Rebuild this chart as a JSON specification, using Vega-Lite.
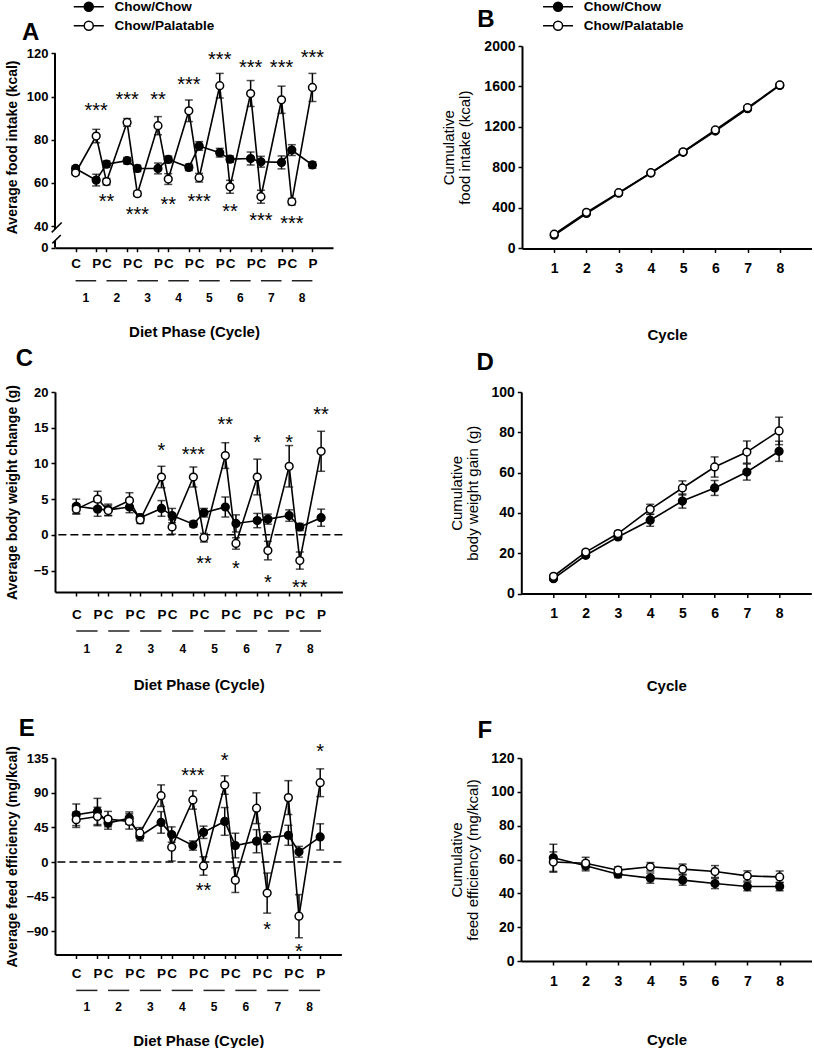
{
"$schema": "https://vega.github.io/schema/vega-lite/v6.json",
"padding": {"left": 5, "top": 0, "right": 0, "bottom": 0},
"datasets": {
"intake": [
{"group":"Chow/Chow","x":0,"mean":66.7,"sem":1.2},{"group":"Chow/Chow","x":2,"mean":61.3,"sem":2.7},{"group":"Chow/Chow","x":3,"mean":68.7,"sem":1.5},{"group":"Chow/Chow","x":5,"mean":70.3,"sem":1.5},
{"group":"Chow/Chow","x":6,"mean":66.7,"sem":1.5},{"group":"Chow/Chow","x":8,"mean":66.7,"sem":2.5},{"group":"Chow/Chow","x":9,"mean":70.9,"sem":1.5},{"group":"Chow/Chow","x":11,"mean":67.2,"sem":1.5},
{"group":"Chow/Chow","x":12,"mean":77.1,"sem":2.0},{"group":"Chow/Chow","x":14,"mean":74.0,"sem":2.0},{"group":"Chow/Chow","x":15,"mean":71.0,"sem":1.5},{"group":"Chow/Chow","x":17,"mean":71.3,"sem":3.0},
{"group":"Chow/Chow","x":18,"mean":69.8,"sem":2.5},{"group":"Chow/Chow","x":20,"mean":69.5,"sem":3.0},{"group":"Chow/Chow","x":21,"mean":75.2,"sem":2.5},{"group":"Chow/Chow","x":23,"mean":68.3,"sem":1.5},
{"group":"Chow/Palatable","x":0,"mean":64.7,"sem":1.0},{"group":"Chow/Palatable","x":2,"mean":81.7,"sem":3.1},{"group":"Chow/Palatable","x":3,"mean":60.6,"sem":1.5},{"group":"Chow/Palatable","x":5,"mean":88.0,"sem":1.8},
{"group":"Chow/Palatable","x":6,"mean":55.0,"sem":1.2},{"group":"Chow/Palatable","x":8,"mean":86.5,"sem":4.2},{"group":"Chow/Palatable","x":9,"mean":61.8,"sem":2.5},{"group":"Chow/Palatable","x":11,"mean":93.4,"sem":5.0},
{"group":"Chow/Palatable","x":12,"mean":62.4,"sem":2.0},{"group":"Chow/Palatable","x":14,"mean":105.0,"sem":5.7},{"group":"Chow/Palatable","x":15,"mean":58.2,"sem":3.0},{"group":"Chow/Palatable","x":17,"mean":101.4,"sem":6.0},
{"group":"Chow/Palatable","x":18,"mean":53.6,"sem":3.0},{"group":"Chow/Palatable","x":20,"mean":98.5,"sem":6.3},{"group":"Chow/Palatable","x":21,"mean":51.3,"sem":1.5},{"group":"Chow/Palatable","x":23,"mean":104.2,"sem":6.5}
],
"weight": [
{"group":"Chow/Chow","x":0,"mean":4.0,"sem":1.0},{"group":"Chow/Chow","x":2,"mean":3.6,"sem":1.0},{"group":"Chow/Chow","x":3,"mean":3.5,"sem":0.8},{"group":"Chow/Chow","x":5,"mean":3.9,"sem":0.8},
{"group":"Chow/Chow","x":6,"mean":2.4,"sem":0.5},{"group":"Chow/Chow","x":8,"mean":3.7,"sem":1.1},{"group":"Chow/Chow","x":9,"mean":2.7,"sem":1.0},{"group":"Chow/Chow","x":11,"mean":1.5,"sem":0.4},
{"group":"Chow/Chow","x":12,"mean":3.1,"sem":0.6},{"group":"Chow/Chow","x":14,"mean":3.9,"sem":1.4},{"group":"Chow/Chow","x":15,"mean":1.6,"sem":1.2},{"group":"Chow/Chow","x":17,"mean":2.0,"sem":1.0},
{"group":"Chow/Chow","x":18,"mean":2.2,"sem":0.7},{"group":"Chow/Chow","x":20,"mean":2.7,"sem":0.8},{"group":"Chow/Chow","x":21,"mean":1.1,"sem":0.5},{"group":"Chow/Chow","x":23,"mean":2.4,"sem":1.2},
{"group":"Chow/Palatable","x":0,"mean":3.6,"sem":0.7},{"group":"Chow/Palatable","x":2,"mean":5.0,"sem":1.1},{"group":"Chow/Palatable","x":3,"mean":3.4,"sem":0.7},{"group":"Chow/Palatable","x":5,"mean":4.8,"sem":1.1},
{"group":"Chow/Palatable","x":6,"mean":2.1,"sem":0.5},{"group":"Chow/Palatable","x":8,"mean":8.1,"sem":1.5},{"group":"Chow/Palatable","x":9,"mean":1.1,"sem":1.0},{"group":"Chow/Palatable","x":11,"mean":8.1,"sem":1.4},
{"group":"Chow/Palatable","x":12,"mean":-0.4,"sem":0.6},{"group":"Chow/Palatable","x":14,"mean":11.1,"sem":1.8},{"group":"Chow/Palatable","x":15,"mean":-1.2,"sem":0.8},{"group":"Chow/Palatable","x":17,"mean":8.1,"sem":2.5},
{"group":"Chow/Palatable","x":18,"mean":-2.2,"sem":1.3},{"group":"Chow/Palatable","x":20,"mean":9.6,"sem":2.9},{"group":"Chow/Palatable","x":21,"mean":-3.6,"sem":1.2},{"group":"Chow/Palatable","x":23,"mean":11.7,"sem":2.8}
],
"efficiency": [
{"group":"Chow/Chow","x":0,"mean":61.3,"sem":14},{"group":"Chow/Chow","x":2,"mean":65.6,"sem":17},{"group":"Chow/Chow","x":3,"mean":50.6,"sem":8},{"group":"Chow/Chow","x":5,"mean":57.0,"sem":8},
{"group":"Chow/Chow","x":6,"mean":33.4,"sem":6},{"group":"Chow/Chow","x":8,"mean":51.4,"sem":14},{"group":"Chow/Chow","x":9,"mean":35.6,"sem":10},{"group":"Chow/Chow","x":11,"mean":21.4,"sem":6},
{"group":"Chow/Chow","x":12,"mean":38.6,"sem":8},{"group":"Chow/Chow","x":14,"mean":52.7,"sem":18},{"group":"Chow/Chow","x":15,"mean":21.4,"sem":16},{"group":"Chow/Chow","x":17,"mean":27.0,"sem":15},
{"group":"Chow/Chow","x":18,"mean":31.3,"sem":8},{"group":"Chow/Chow","x":20,"mean":34.7,"sem":13},{"group":"Chow/Chow","x":21,"mean":13.3,"sem":7},{"group":"Chow/Chow","x":23,"mean":32.6,"sem":17},
{"group":"Chow/Palatable","x":0,"mean":54.9,"sem":10},{"group":"Chow/Palatable","x":2,"mean":59.1,"sem":12},{"group":"Chow/Palatable","x":3,"mean":55.7,"sem":10},{"group":"Chow/Palatable","x":5,"mean":52.7,"sem":10},
{"group":"Chow/Palatable","x":6,"mean":37.7,"sem":7},{"group":"Chow/Palatable","x":8,"mean":86.1,"sem":14},{"group":"Chow/Palatable","x":9,"mean":19.3,"sem":18},{"group":"Chow/Palatable","x":11,"mean":80.6,"sem":12},
{"group":"Chow/Palatable","x":12,"mean":-5.1,"sem":12},{"group":"Chow/Palatable","x":14,"mean":99.9,"sem":12},{"group":"Chow/Palatable","x":15,"mean":-23.5,"sem":16},{"group":"Chow/Palatable","x":17,"mean":69.8,"sem":20},
{"group":"Chow/Palatable","x":18,"mean":-40.3,"sem":26},{"group":"Chow/Palatable","x":20,"mean":83.6,"sem":22},{"group":"Chow/Palatable","x":21,"mean":-70.3,"sem":28},{"group":"Chow/Palatable","x":23,"mean":102.9,"sem":18}
],
"cumIntake": [
{"group":"Chow/Chow","cycle":1,"mean":130,"sem":10},{"group":"Chow/Chow","cycle":2,"mean":345,"sem":12},{"group":"Chow/Chow","cycle":3,"mean":545,"sem":12},{"group":"Chow/Chow","cycle":4,"mean":745,"sem":12},
{"group":"Chow/Chow","cycle":5,"mean":950,"sem":15},{"group":"Chow/Chow","cycle":6,"mean":1160,"sem":15},{"group":"Chow/Chow","cycle":7,"mean":1380,"sem":18},{"group":"Chow/Chow","cycle":8,"mean":1610,"sem":20},
{"group":"Chow/Palatable","cycle":1,"mean":140,"sem":10},{"group":"Chow/Palatable","cycle":2,"mean":356,"sem":12},{"group":"Chow/Palatable","cycle":3,"mean":550,"sem":12},{"group":"Chow/Palatable","cycle":4,"mean":748,"sem":15},
{"group":"Chow/Palatable","cycle":5,"mean":955,"sem":15},{"group":"Chow/Palatable","cycle":6,"mean":1170,"sem":18},{"group":"Chow/Palatable","cycle":7,"mean":1390,"sem":20},{"group":"Chow/Palatable","cycle":8,"mean":1615,"sem":22}
],
"cumWeight": [
{"group":"Chow/Chow","cycle":1,"mean":7.4,"sem":0.8},{"group":"Chow/Chow","cycle":2,"mean":19.0,"sem":1.0},{"group":"Chow/Chow","cycle":3,"mean":28.1,"sem":1.2},{"group":"Chow/Chow","cycle":4,"mean":36.4,"sem":3.0},
{"group":"Chow/Chow","cycle":5,"mean":45.9,"sem":3.5},{"group":"Chow/Chow","cycle":6,"mean":52.4,"sem":3.7},{"group":"Chow/Chow","cycle":7,"mean":60.3,"sem":4.0},{"group":"Chow/Chow","cycle":8,"mean":70.6,"sem":5.0},
{"group":"Chow/Palatable","cycle":1,"mean":8.6,"sem":0.8},{"group":"Chow/Palatable","cycle":2,"mean":20.6,"sem":1.0},{"group":"Chow/Palatable","cycle":3,"mean":29.8,"sem":1.2},{"group":"Chow/Palatable","cycle":4,"mean":41.8,"sem":2.5},
{"group":"Chow/Palatable","cycle":5,"mean":52.4,"sem":3.5},{"group":"Chow/Palatable","cycle":6,"mean":62.8,"sem":5.0},{"group":"Chow/Palatable","cycle":7,"mean":70.2,"sem":5.5},{"group":"Chow/Palatable","cycle":8,"mean":80.7,"sem":6.8}
],
"cumEff": [
{"group":"Chow/Chow","cycle":1,"mean":61.0,"sem":8},{"group":"Chow/Chow","cycle":2,"mean":56.3,"sem":3},{"group":"Chow/Chow","cycle":3,"mean":51.3,"sem":2},{"group":"Chow/Chow","cycle":4,"mean":49.0,"sem":3},
{"group":"Chow/Chow","cycle":5,"mean":47.8,"sem":3},{"group":"Chow/Chow","cycle":6,"mean":45.8,"sem":3},{"group":"Chow/Chow","cycle":7,"mean":44.0,"sem":2.5},{"group":"Chow/Chow","cycle":8,"mean":44.0,"sem":2.5},
{"group":"Chow/Palatable","cycle":1,"mean":58.5,"sem":6},{"group":"Chow/Palatable","cycle":2,"mean":57.8,"sem":3.5},{"group":"Chow/Palatable","cycle":3,"mean":53.7,"sem":2},{"group":"Chow/Palatable","cycle":4,"mean":55.7,"sem":2.5},
{"group":"Chow/Palatable","cycle":5,"mean":54.3,"sem":3},{"group":"Chow/Palatable","cycle":6,"mean":52.9,"sem":3.5},{"group":"Chow/Palatable","cycle":7,"mean":50.3,"sem":3},{"group":"Chow/Palatable","cycle":8,"mean":49.7,"sem":3.5}
],
"starsIntake": [
{"x":2,"y":95.7,"label":"***"},{"x":3,"y":53.9,"label":"**"},{"x":5,"y":101,"label":"***"},{"x":6,"y":47.5,"label":"***"},{"x":8,"y":101,"label":"**"},
{"x":9,"y":52.1,"label":"**"},{"x":11,"y":108.1,"label":"***"},{"x":12,"y":53.6,"label":"***"},{"x":14,"y":119.5,"label":"***"},{"x":15,"y":49.3,"label":"**"},
{"x":17,"y":115.6,"label":"***"},{"x":18,"y":45.1,"label":"***"},{"x":20,"y":115.6,"label":"***"},{"x":21,"y":43.3,"label":"***"},{"x":23,"y":120.4,"label":"***"}
],
"starsWeight": [
{"x":8,"y":12.5,"label":"*"},{"x":11,"y":12.0,"label":"***"},{"x":14,"y":16.1,"label":"**"},{"x":12,"y":-3.3,"label":"**"},{"x":17,"y":13.6,"label":"*"},
{"x":15,"y":-4.0,"label":"*"},{"x":20,"y":13.6,"label":"*"},{"x":18,"y":-5.9,"label":"*"},{"x":23,"y":17.6,"label":"**"},{"x":21,"y":-6.6,"label":"**"}
],
"starsEff": [
{"x":11,"y":119.2,"label":"***"},{"x":14,"y":138.4,"label":"*"},{"x":12,"y":-30.9,"label":"**"},{"x":18,"y":-81,"label":"*"},{"x":23,"y":150.4,"label":"*"},{"x":21,"y":-110.2,"label":"*"}
],
"cycles": [
{"cycle":1,"start":0,"end":2,"mid":1},{"cycle":2,"start":3,"end":5,"mid":4},{"cycle":3,"start":6,"end":8,"mid":7},{"cycle":4,"start":9,"end":11,"mid":10},
{"cycle":5,"start":12,"end":14,"mid":13},{"cycle":6,"start":15,"end":17,"mid":16},{"cycle":7,"start":18,"end":20,"mid":19},{"cycle":8,"start":21,"end":23,"mid":22}
]
},
"vconcat": [
{
"hconcat": [
{
"width": 278, "height": 201.7,
"title": {"text": "A", "dx": -33, "offset": -44.7},
"layer": [
{"data": {"values": [{"part": "axis"}]}, "mark": {"type": "rule", "color": "black", "strokeWidth": 2},
 "encoding": {"x": {"datum": -2, "scale": {"domain": [-2, 25], "nice": false, "zero": false}}, "y": {"datum": 30, "scale": {"domain": [30, 123.4], "nice": false, "zero": false}}, "y2": {"datum": 33.2}}},
{"data": {"values": [{"part": "axis"}]}, "mark": {"type": "rule", "color": "black", "strokeWidth": 2},
 "encoding": {"x": {"datum": -2, "scale": {"domain": [-2, 25], "nice": false, "zero": false}}, "y": {"datum": 38.6, "scale": {"domain": [30, 123.4], "nice": false, "zero": false}}, "y2": {"datum": 120}}},
{"data": {"values": [{"part": "break"}]}, "mark": {"type": "rule", "color": "black", "strokeWidth": 1.5},
 "encoding": {"x": {"datum": -2.32, "scale": {"domain": [-2, 25], "nice": false, "zero": false}}, "x2": {"datum": -1.35}, "y": {"datum": 37.1, "scale": {"domain": [30, 123.4], "nice": false, "zero": false}}, "y2": {"datum": 41.7}}},
{"data": {"values": [{"part": "break"}]}, "mark": {"type": "rule", "color": "black", "strokeWidth": 1.5},
 "encoding": {"x": {"datum": -2.26, "scale": {"domain": [-2, 25], "nice": false, "zero": false}}, "x2": {"datum": -1.44}, "y": {"datum": 32.0, "scale": {"domain": [30, 123.4], "nice": false, "zero": false}}, "y2": {"datum": 35.9}}},
{"data": {"name": "cycles"}, "mark": {"type": "rule", "color": "#222222", "strokeWidth": 1.5},
 "encoding": {"x": {"field": "start", "type": "quantitative", "scale": {"domain": [-2, 25], "nice": false, "zero": false}}, "x2": {"field": "end"}, "y": {"datum": 14.7, "scale": {"domain": [30, 123.4], "nice": false, "zero": false}}}},
{"data": {"name": "cycles"}, "mark": {"type": "text", "fontSize": 12, "fontWeight": "bold", "baseline": "middle", "font": "Liberation Sans", "color": "black"},
 "encoding": {"x": {"field": "mid", "type": "quantitative", "scale": {"domain": [-2, 25], "nice": false, "zero": false}}, "y": {"datum": 6.5, "scale": {"domain": [30, 123.4], "nice": false, "zero": false}}, "text": {"field": "cycle"}}},
{"data": {"name": "intake"}, "mark": {"type": "line", "color": "black", "strokeWidth": 1.6},
 "encoding": {
  "x": {"field": "x", "type": "quantitative", "scale": {"domain": [-2, 25], "nice": false, "zero": false},
        "axis": {"title": "Diet Phase (Cycle)", "values": [0,2,3,5,6,8,9,11,12,14,15,17,18,20,21,23], "tickCount": 40, "labelExpr": "datum.value % 3 == 0 ? 'C' : 'P'", "labelFontSize": 13.5, "labelPadding": 5, "labelFlush": false, "labelOverlap": false, "titleFontSize": 15, "titlePadding": 54}},
  "y": {"field": "mean", "type": "quantitative", "scale": {"domain": [30, 123.4], "nice": false, "zero": false},
        "axis": {"title": "Average food intake (kcal)", "values": [30,40,60,80,100,120], "tickCount": 40, "format": "d", "labelExpr": "datum.value == 30 ? '0' : datum.label", "labelOverlap": false, "domain": false, "labelFontSize": 13, "titleFontSize": 14, "titlePadding": 7}},
  "detail": {"field": "group"}}},
{"data": {"name": "intake"}, "mark": {"type": "errorbar", "color": "black", "thickness": 1.5, "ticks": {"size": 8}},
 "encoding": {
  "x": {"field": "x", "type": "quantitative", "scale": {"domain": [-2, 25], "nice": false, "zero": false},
        "axis": {"title": "Diet Phase (Cycle)", "values": [0,2,3,5,6,8,9,11,12,14,15,17,18,20,21,23], "tickCount": 40, "labelExpr": "datum.value % 3 == 0 ? 'C' : 'P'", "labelFontSize": 13.5, "labelPadding": 5, "labelFlush": false, "labelOverlap": false, "titleFontSize": 15, "titlePadding": 54}},
  "y": {"field": "mean", "type": "quantitative", "scale": {"domain": [30, 123.4], "nice": false, "zero": false},
        "axis": {"title": "Average food intake (kcal)", "values": [30,40,60,80,100,120], "tickCount": 40, "format": "d", "labelExpr": "datum.value == 30 ? '0' : datum.label", "labelOverlap": false, "domain": false, "labelFontSize": 13, "titleFontSize": 14, "titlePadding": 7}},
  "yError": {"field": "sem"}}},
{"data": {"name": "intake"}, "mark": {"type": "circle", "size": 60, "stroke": "black", "strokeWidth": 1.5, "opacity": 1},
 "encoding": {"x": {"field": "x", "type": "quantitative", "scale": {"domain": [-2, 25], "nice": false, "zero": false}}, "y": {"field": "mean", "type": "quantitative", "scale": {"domain": [30, 123.4], "nice": false, "zero": false}},
  "fill": {"field": "group", "type": "nominal", "scale": {"domain": ["Chow/Chow", "Chow/Palatable"], "range": ["black", "white"]},
   "legend": {"title": null, "orient": "none", "legendX": 27, "legendY": -46, "symbolType": "M-3,0L-0.9,0M0.9,0L3,0M-0.9,0A0.9,0.9,0,1,1,0.9,0A0.9,0.9,0,1,1,-0.9,0Z", "symbolSize": 100, "symbolStrokeColor": "black", "symbolStrokeWidth": 1.5, "labelFont": "Liberation Sans", "labelFontSize": 13.5, "labelFontWeight": "bold", "labelColor": "black", "labelOffset": 19, "rowPadding": 3, "padding": 0}}}},
{"data": {"name": "starsIntake"}, "mark": {"type": "text", "fontSize": 20, "baseline": "middle", "dy": 5.5, "font": "Liberation Sans", "color": "black"},
 "encoding": {"x": {"field": "x", "type": "quantitative", "scale": {"domain": [-2, 25], "nice": false, "zero": false}}, "y": {"field": "y", "type": "quantitative", "scale": {"domain": [30, 123.4], "nice": false, "zero": false}}, "text": {"field": "label"}}}
]
},
{
"width": 290, "height": 202.4,
"title": {"text": "B", "dx": -44.7, "offset": -31.7},
"layer": [
{"data": {"name": "cumIntake"}, "mark": {"type": "line", "color": "black", "strokeWidth": 1.6},
 "encoding": {
  "x": {"field": "cycle", "type": "quantitative", "scale": {"domain": [0, 9], "nice": false, "zero": false},
        "axis": {"title": "Cycle", "values": [1,2,3,4,5,6,7,8], "tickCount": 40, "format": "d", "labelFontSize": 14, "labelPadding": 9, "labelFlush": false, "labelOverlap": false, "titleFontSize": 15, "titlePadding": 52.5}},
  "y": {"field": "mean", "type": "quantitative", "scale": {"domain": [0, 2000], "nice": false},
        "axis": {"title": ["Cumulative", "food intake (kcal)"], "values": [0,400,800,1200,1600,2000], "tickCount": 40, "format": "d", "labelOverlap": false, "labelFontSize": 14, "titleFontSize": 15, "titleFontWeight": "normal", "titleLineHeight": 16, "titlePadding": 11}},
  "detail": {"field": "group"}}},
{"data": {"name": "cumIntake"}, "mark": {"type": "errorbar", "color": "black", "thickness": 1.5, "ticks": {"size": 8}},
 "encoding": {
  "x": {"field": "cycle", "type": "quantitative", "scale": {"domain": [0, 9], "nice": false, "zero": false},
        "axis": {"title": "Cycle", "values": [1,2,3,4,5,6,7,8], "tickCount": 40, "format": "d", "labelFontSize": 14, "labelPadding": 9, "labelFlush": false, "labelOverlap": false, "titleFontSize": 15, "titlePadding": 52.5}},
  "y": {"field": "mean", "type": "quantitative", "scale": {"domain": [0, 2000], "nice": false},
        "axis": {"title": ["Cumulative", "food intake (kcal)"], "values": [0,400,800,1200,1600,2000], "tickCount": 40, "format": "d", "labelOverlap": false, "labelFontSize": 14, "titleFontSize": 15, "titleFontWeight": "normal", "titleLineHeight": 16, "titlePadding": 11}},
  "yError": {"field": "sem"}}},
{"data": {"name": "cumIntake"}, "mark": {"type": "circle", "size": 60, "stroke": "black", "strokeWidth": 1.5, "opacity": 1},
 "encoding": {"x": {"field": "cycle", "type": "quantitative", "scale": {"domain": [0, 9], "nice": false, "zero": false}}, "y": {"field": "mean", "type": "quantitative", "scale": {"domain": [0, 2000], "nice": false}},
  "fill": {"field": "group", "type": "nominal", "scale": {"domain": ["Chow/Chow", "Chow/Palatable"], "range": ["black", "white"]},
   "legend": {"title": null, "orient": "none", "legendX": 29.3, "legendY": -46, "symbolType": "M-3,0L-0.9,0M0.9,0L3,0M-0.9,0A0.9,0.9,0,1,1,0.9,0A0.9,0.9,0,1,1,-0.9,0Z", "symbolSize": 100, "symbolStrokeColor": "black", "symbolStrokeWidth": 1.5, "labelFont": "Liberation Sans", "labelFontSize": 13.5, "labelFontWeight": "bold", "labelColor": "black", "labelOffset": 19, "rowPadding": 3, "padding": 0}}}}
]
}
],
"spacing": 108,
"resolve": {"scale": {"fill": "independent"}, "legend": {"fill": "independent"}}
},
{
"vconcat": [
{
"hconcat": [
{
"width": 287.4, "height": 200,
"title": {"text": "C", "dx": -39.3, "offset": 13.4},
"layer": [
{"data": {"values": [{"part": "zero"}]}, "mark": {"type": "rule", "color": "black", "strokeWidth": 1.5, "strokeDash": [8, 4]},
 "encoding": {"y": {"datum": 0, "scale": {"domain": [-8, 20], "nice": false, "zero": false}}}},
{"data": {"name": "cycles"}, "mark": {"type": "rule", "color": "#222222", "strokeWidth": 1.5},
 "encoding": {"x": {"field": "start", "type": "quantitative", "scale": {"domain": [-2, 25], "nice": false, "zero": false}}, "x2": {"field": "end"}, "y": {"datum": -13.46, "scale": {"domain": [-8, 20], "nice": false, "zero": false}}}},
{"data": {"name": "cycles"}, "mark": {"type": "text", "fontSize": 12, "fontWeight": "bold", "baseline": "middle", "font": "Liberation Sans", "color": "black"},
 "encoding": {"x": {"field": "mid", "type": "quantitative", "scale": {"domain": [-2, 25], "nice": false, "zero": false}}, "y": {"datum": -15.98, "scale": {"domain": [-8, 20], "nice": false, "zero": false}}, "text": {"field": "cycle"}}},
{"data": {"name": "weight"}, "mark": {"type": "line", "color": "black", "strokeWidth": 1.6},
 "encoding": {
  "x": {"field": "x", "type": "quantitative", "scale": {"domain": [-2, 25], "nice": false, "zero": false},
        "axis": {"title": "Diet Phase (Cycle)", "values": [0,2,3,5,6,8,9,11,12,14,15,17,18,20,21,23], "tickCount": 40, "labelExpr": "datum.value % 3 == 0 ? 'C' : 'P'", "labelFontSize": 13.5, "labelPadding": 11, "labelFlush": false, "labelOverlap": false, "titleFontSize": 15, "titlePadding": 56.5}},
  "y": {"field": "mean", "type": "quantitative", "scale": {"domain": [-8, 20], "nice": false, "zero": false},
        "axis": {"title": "Average body weight change (g)", "values": [-5,0,5,10,15,20], "tickCount": 40, "format": "d", "labelOverlap": false, "labelFontSize": 13, "titleFontSize": 14, "titlePadding": 13.8}},
  "detail": {"field": "group"}}},
{"data": {"name": "weight"}, "mark": {"type": "errorbar", "color": "black", "thickness": 1.5, "ticks": {"size": 8}},
 "encoding": {
  "x": {"field": "x", "type": "quantitative", "scale": {"domain": [-2, 25], "nice": false, "zero": false},
        "axis": {"title": "Diet Phase (Cycle)", "values": [0,2,3,5,6,8,9,11,12,14,15,17,18,20,21,23], "tickCount": 40, "labelExpr": "datum.value % 3 == 0 ? 'C' : 'P'", "labelFontSize": 13.5, "labelPadding": 11, "labelFlush": false, "labelOverlap": false, "titleFontSize": 15, "titlePadding": 56.5}},
  "y": {"field": "mean", "type": "quantitative", "scale": {"domain": [-8, 20], "nice": false, "zero": false},
        "axis": {"title": "Average body weight change (g)", "values": [-5,0,5,10,15,20], "tickCount": 40, "format": "d", "labelOverlap": false, "labelFontSize": 13, "titleFontSize": 14, "titlePadding": 13.8}},
  "yError": {"field": "sem"}}},
{"data": {"name": "weight"}, "mark": {"type": "circle", "size": 60, "stroke": "black", "strokeWidth": 1.5, "opacity": 1},
 "encoding": {"x": {"field": "x", "type": "quantitative", "scale": {"domain": [-2, 25], "nice": false, "zero": false}}, "y": {"field": "mean", "type": "quantitative", "scale": {"domain": [-8, 20], "nice": false, "zero": false}},
  "fill": {"field": "group", "type": "nominal", "scale": {"domain": ["Chow/Chow", "Chow/Palatable"], "range": ["black", "white"]}, "legend": null}}},
{"data": {"name": "starsWeight"}, "mark": {"type": "text", "fontSize": 20, "baseline": "middle", "dy": 5.5, "font": "Liberation Sans", "color": "black"},
 "encoding": {"x": {"field": "x", "type": "quantitative", "scale": {"domain": [-2, 25], "nice": false, "zero": false}}, "y": {"field": "y", "type": "quantitative", "scale": {"domain": [-8, 20], "nice": false, "zero": false}}, "text": {"field": "label"}}}
]
},
{
"width": 290, "height": 201.6,
"title": {"text": "D", "dx": -44.7, "offset": 9.7},
"layer": [
{"data": {"name": "cumWeight"}, "mark": {"type": "line", "color": "black", "strokeWidth": 1.6},
 "encoding": {
  "x": {"field": "cycle", "type": "quantitative", "scale": {"domain": [0, 9], "nice": false, "zero": false},
        "axis": {"title": "Cycle", "values": [1,2,3,4,5,6,7,8], "tickCount": 40, "format": "d", "labelFontSize": 14, "labelPadding": 8.4, "labelFlush": false, "labelOverlap": false, "titleFontSize": 15, "titlePadding": 58}},
  "y": {"field": "mean", "type": "quantitative", "scale": {"domain": [0, 100], "nice": false},
        "axis": {"title": ["Cumulative", "body weight gain (g)"], "values": [0,20,40,60,80,100], "tickCount": 40, "format": "d", "labelOverlap": false, "labelFontSize": 14, "titleFontSize": 15, "titleFontWeight": "normal", "titleLineHeight": 16.6, "titlePadding": 10}},
  "detail": {"field": "group"}}},
{"data": {"name": "cumWeight"}, "mark": {"type": "errorbar", "color": "black", "thickness": 1.5, "ticks": {"size": 8}},
 "encoding": {
  "x": {"field": "cycle", "type": "quantitative", "scale": {"domain": [0, 9], "nice": false, "zero": false},
        "axis": {"title": "Cycle", "values": [1,2,3,4,5,6,7,8], "tickCount": 40, "format": "d", "labelFontSize": 14, "labelPadding": 8.4, "labelFlush": false, "labelOverlap": false, "titleFontSize": 15, "titlePadding": 58}},
  "y": {"field": "mean", "type": "quantitative", "scale": {"domain": [0, 100], "nice": false},
        "axis": {"title": ["Cumulative", "body weight gain (g)"], "values": [0,20,40,60,80,100], "tickCount": 40, "format": "d", "labelOverlap": false, "labelFontSize": 14, "titleFontSize": 15, "titleFontWeight": "normal", "titleLineHeight": 16.6, "titlePadding": 10}},
  "yError": {"field": "sem"}}},
{"data": {"name": "cumWeight"}, "mark": {"type": "circle", "size": 60, "stroke": "black", "strokeWidth": 1.5, "opacity": 1},
 "encoding": {"x": {"field": "cycle", "type": "quantitative", "scale": {"domain": [0, 9], "nice": false, "zero": false}}, "y": {"field": "mean", "type": "quantitative", "scale": {"domain": [0, 100], "nice": false}},
  "fill": {"field": "group", "type": "nominal", "scale": {"domain": ["Chow/Chow", "Chow/Palatable"], "range": ["black", "white"]}, "legend": null}}}
]
}
],
"spacing": 105.3,
"resolve": {"scale": {"fill": "independent"}, "legend": {"fill": "independent"}}
},
{
"hconcat": [
{
"width": 286.4, "height": 196.5,
"title": {"text": "E", "dx": -36.3, "offset": 0.6},
"layer": [
{"data": {"values": [{"part": "zero"}]}, "mark": {"type": "rule", "color": "black", "strokeWidth": 1.5, "strokeDash": [8, 4]},
 "encoding": {"y": {"datum": 0, "scale": {"domain": [-120, 135], "nice": false, "zero": false}}}},
{"data": {"name": "cycles"}, "mark": {"type": "rule", "color": "#222222", "strokeWidth": 1.5},
 "encoding": {"x": {"field": "start", "type": "quantitative", "scale": {"domain": [-2, 25], "nice": false, "zero": false}}, "x2": {"field": "end"}, "y": {"datum": -166.6, "scale": {"domain": [-120, 135], "nice": false, "zero": false}}}},
{"data": {"name": "cycles"}, "mark": {"type": "text", "fontSize": 12, "fontWeight": "bold", "baseline": "middle", "font": "Liberation Sans", "color": "black"},
 "encoding": {"x": {"field": "mid", "type": "quantitative", "scale": {"domain": [-2, 25], "nice": false, "zero": false}}, "y": {"datum": -188.2, "scale": {"domain": [-120, 135], "nice": false, "zero": false}}, "text": {"field": "cycle"}}},
{"data": {"name": "efficiency"}, "mark": {"type": "line", "color": "black", "strokeWidth": 1.6},
 "encoding": {
  "x": {"field": "x", "type": "quantitative", "scale": {"domain": [-2, 25], "nice": false, "zero": false},
        "axis": {"title": "Diet Phase (Cycle)", "values": [0,2,3,5,6,8,9,11,12,14,15,17,18,20,21,23], "tickCount": 40, "labelExpr": "datum.value % 3 == 0 ? 'C' : 'P'", "labelFontSize": 13.5, "labelPadding": 7.5, "labelFlush": false, "labelOverlap": false, "titleFontSize": 15, "titlePadding": 53.5}},
  "y": {"field": "mean", "type": "quantitative", "scale": {"domain": [-120, 135], "nice": false, "zero": false},
        "axis": {"title": "Average feed efficiency (mg/kcal)", "values": [-90,-45,0,45,90,135], "tickCount": 40, "format": "d", "labelOverlap": false, "labelFontSize": 13, "titleFontSize": 14, "titlePadding": 6.6}},
  "detail": {"field": "group"}}},
{"data": {"name": "efficiency"}, "mark": {"type": "errorbar", "color": "black", "thickness": 1.5, "ticks": {"size": 8}},
 "encoding": {
  "x": {"field": "x", "type": "quantitative", "scale": {"domain": [-2, 25], "nice": false, "zero": false},
        "axis": {"title": "Diet Phase (Cycle)", "values": [0,2,3,5,6,8,9,11,12,14,15,17,18,20,21,23], "tickCount": 40, "labelExpr": "datum.value % 3 == 0 ? 'C' : 'P'", "labelFontSize": 13.5, "labelPadding": 7.5, "labelFlush": false, "labelOverlap": false, "titleFontSize": 15, "titlePadding": 53.5}},
  "y": {"field": "mean", "type": "quantitative", "scale": {"domain": [-120, 135], "nice": false, "zero": false},
        "axis": {"title": "Average feed efficiency (mg/kcal)", "values": [-90,-45,0,45,90,135], "tickCount": 40, "format": "d", "labelOverlap": false, "labelFontSize": 13, "titleFontSize": 14, "titlePadding": 6.6}},
  "yError": {"field": "sem"}}},
{"data": {"name": "efficiency"}, "mark": {"type": "circle", "size": 60, "stroke": "black", "strokeWidth": 1.5, "opacity": 1},
 "encoding": {"x": {"field": "x", "type": "quantitative", "scale": {"domain": [-2, 25], "nice": false, "zero": false}}, "y": {"field": "mean", "type": "quantitative", "scale": {"domain": [-120, 135], "nice": false, "zero": false}},
  "fill": {"field": "group", "type": "nominal", "scale": {"domain": ["Chow/Chow", "Chow/Palatable"], "range": ["black", "white"]}, "legend": null}}},
{"data": {"name": "starsEff"}, "mark": {"type": "text", "fontSize": 20, "baseline": "middle", "dy": 5.5, "font": "Liberation Sans", "color": "black"},
 "encoding": {"x": {"field": "x", "type": "quantitative", "scale": {"domain": [-2, 25], "nice": false, "zero": false}}, "y": {"field": "y", "type": "quantitative", "scale": {"domain": [-120, 135], "nice": false, "zero": false}}, "text": {"field": "label"}}}
]
},
{
"width": 291, "height": 203,
"title": {"text": "F", "dx": -43.5, "offset": 8.5},
"layer": [
{"data": {"name": "cumEff"}, "mark": {"type": "line", "color": "black", "strokeWidth": 1.6},
 "encoding": {
  "x": {"field": "cycle", "type": "quantitative", "scale": {"domain": [0, 9], "nice": false, "zero": false},
        "axis": {"title": "Cycle", "values": [1,2,3,4,5,6,7,8], "tickCount": 40, "format": "d", "labelFontSize": 14, "labelPadding": 9, "labelFlush": false, "labelOverlap": false, "titleFontSize": 15, "titlePadding": 44.5}},
  "y": {"field": "mean", "type": "quantitative", "scale": {"domain": [0, 120], "nice": false},
        "axis": {"title": ["Cumulative", "feed efficiency (mg/kcal)"], "values": [0,20,40,60,80,100,120], "tickCount": 40, "format": "d", "labelOverlap": false, "labelFontSize": 14, "titleFontSize": 15, "titleFontWeight": "normal", "titleLineHeight": 16.6, "titlePadding": 10}},
  "detail": {"field": "group"}}},
{"data": {"name": "cumEff"}, "mark": {"type": "errorbar", "color": "black", "thickness": 1.5, "ticks": {"size": 8}},
 "encoding": {
  "x": {"field": "cycle", "type": "quantitative", "scale": {"domain": [0, 9], "nice": false, "zero": false},
        "axis": {"title": "Cycle", "values": [1,2,3,4,5,6,7,8], "tickCount": 40, "format": "d", "labelFontSize": 14, "labelPadding": 9, "labelFlush": false, "labelOverlap": false, "titleFontSize": 15, "titlePadding": 44.5}},
  "y": {"field": "mean", "type": "quantitative", "scale": {"domain": [0, 120], "nice": false},
        "axis": {"title": ["Cumulative", "feed efficiency (mg/kcal)"], "values": [0,20,40,60,80,100,120], "tickCount": 40, "format": "d", "labelOverlap": false, "labelFontSize": 14, "titleFontSize": 15, "titleFontWeight": "normal", "titleLineHeight": 16.6, "titlePadding": 10}},
  "yError": {"field": "sem"}}},
{"data": {"name": "cumEff"}, "mark": {"type": "circle", "size": 60, "stroke": "black", "strokeWidth": 1.5, "opacity": 1},
 "encoding": {"x": {"field": "cycle", "type": "quantitative", "scale": {"domain": [0, 9], "nice": false, "zero": false}}, "y": {"field": "mean", "type": "quantitative", "scale": {"domain": [0, 120], "nice": false}},
  "fill": {"field": "group", "type": "nominal", "scale": {"domain": ["Chow/Chow", "Chow/Palatable"], "range": ["black", "white"]}, "legend": null}}}
]
}
],
"spacing": 106,
"resolve": {"scale": {"fill": "independent"}, "legend": {"fill": "independent"}}
}
],
"spacing": 24,
"resolve": {"scale": {"fill": "independent"}, "legend": {"fill": "independent"}}
}
],
"spacing": 4,
"resolve": {"scale": {"fill": "independent"}, "legend": {"fill": "independent"}},
"config": {
"view": {"stroke": null},
"font": "Liberation Sans",
"axis": {"labelFont": "Liberation Sans", "labelFontWeight": "bold", "labelColor": "black", "titleFont": "Liberation Sans", "titleFontWeight": "bold", "titleColor": "black", "domainColor": "black", "domainWidth": 2, "tickColor": "black", "tickWidth": 1.5, "tickSize": 4, "grid": false, "labelPadding": 3, "labelOverlap": false},
"title": {"font": "Liberation Sans", "fontSize": 24, "fontWeight": "bold", "color": "black", "anchor": "start", "frame": "group", "baseline": "alphabetic"}
}
}
